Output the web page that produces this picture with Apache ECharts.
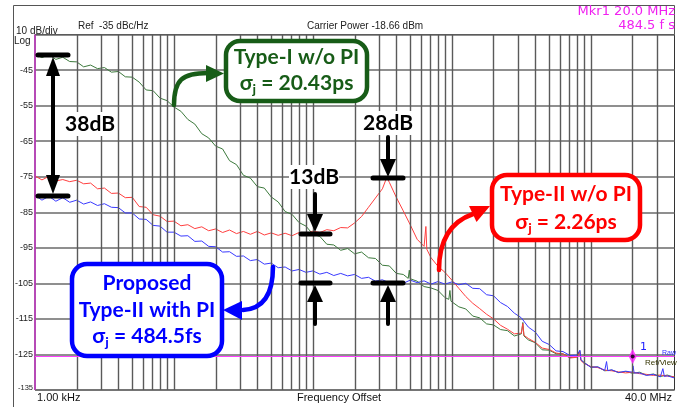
<!DOCTYPE html>
<html>
<head>
<meta charset="utf-8">
<script src="https://cdn.jsdelivr.net/npm/echarts@6/dist/echarts.min.js"></script>
<style>
html,body{margin:0;padding:0;background:#fff;}
#chart{width:682px;height:407px;}
</style>
</head>
<body>
<div id="chart"></div>
<script>
// ---- data (frequency offset in Hz, phase noise in dBc/Hz) ----
const freqs = [1000,1122,1259,1413,1585,1778,1995,2239,2512,2818,3162,3548,3981,4467,5012,5623,6310,7079,7943,8913,
  10000,11220,12590,14130,15850,17780,19950,22390,25120,28180,31620,35480,39810,44670,50120,56230,63100,70790,79430,89130,
  100000,112200,125900,141300,158500,177800,199500,223900,251200,281800,316200,354800,398100,446700,501200,562300,631000,707900,794300,891300,
  1000000,1122000,1259000,1413000,1585000,1778000,1995000,2239000,2512000,2818000,3162000,3548000,3981000,4467000,5012000,5623000,6310000,7079000,7943000,8913000,
  10000000,11220000,12590000,14130000,15850000,17780000,19950000,22390000,25120000,28180000,31620000,35480000,39810000,40000000];

const greenDb = [-40.6,-41.5,-40.7,-42.0,-41.4,-42.6,-42.7,-44.1,-43.6,-44.6,-44.3,-45.6,-45.4,-46.9,-47.0,-48.4,-50.6,-50.8,-52.9,-53.6,
  -55.4,-56.6,-58.9,-60.2,-62.9,-64.1,-66.4,-67.2,-70.5,-71.6,-74.6,-75.4,-77.8,-78.2,-80.7,-82.1,-84.8,-85.6,-87.9,-88.9,
  -91.2,-91.8,-94.0,-94.2,-95.7,-95.2,-96.7,-96.2,-97.8,-98.0,-99.9,-100.1,-102.2,-102.5,-103.7,-104.4,-105.9,-106.3,-107.0,-109.0,
  -109.8,-111.6,-112.2,-114.2,-114.7,-116.4,-116.7,-118.0,-118.3,-119.8,-119.2,-120.9,-121.7,-123.7,-123.8,-124.8,-124.8,-125.9,-125.6,-127.2,
  -128.6,-128.5,-129.6,-129.4,-130.1,-129.8,-130.3,-130.0,-130.8,-130.5,-131.2,-130.8,-131.4,-131.2];

const redDb = [-74.8,-75.9,-74.9,-76.2,-75.8,-76.4,-76.0,-77.0,-76.8,-78.4,-78.2,-79.7,-79.6,-80.9,-80.8,-83.4,-83.6,-85.7,-86.1,-87.6,
  -87.5,-88.8,-88.5,-89.6,-89.1,-90.2,-89.7,-90.7,-90.0,-91.0,-90.4,-91.2,-90.4,-91.4,-90.8,-91.5,-90.9,-91.6,-90.7,-91.1,
  -90.3,-90.7,-89.9,-90.2,-89.3,-89.4,-88.0,-86.2,-83.6,-81.0,-78.4,-76.6,-80.8,-84.6,-88.5,-92.6,-94.6,-97.8,-100.2,-101.9,
  -104.1,-106.4,-108.7,-110.6,-112.1,-113.7,-115.0,-116.8,-117.9,-119.2,-119.0,-120.5,-121.6,-123.2,-123.6,-124.6,-124.9,-126.0,-125.8,-127.5,
  -128.4,-128.7,-129.4,-129.6,-129.9,-130.2,-130.0,-130.4,-130.6,-130.9,-130.8,-131.1,-131.3,-131.3];

const blueDb = [-80.2,-81.6,-80.5,-81.9,-80.9,-82.2,-81.6,-82.7,-82.1,-83.1,-82.6,-83.6,-83.7,-85.2,-85.2,-86.9,-87.0,-88.7,-88.9,-90.6,
  -90.6,-91.7,-91.6,-93.2,-93.1,-94.6,-94.7,-96.2,-96.1,-97.4,-97.3,-98.6,-98.3,-99.6,-99.3,-100.6,-100.4,-101.5,-101.1,-101.9,
  -101.5,-102.4,-101.9,-102.8,-102.2,-102.9,-102.5,-103.6,-103.3,-104.4,-104.0,-104.9,-104.5,-105.0,-104.1,-104.8,-104.3,-105.2,-104.5,-105.2,
  -104.6,-105.4,-105.0,-106.4,-106.5,-108.2,-108.5,-110.4,-111.5,-113.4,-114.7,-117.3,-118.7,-121.3,-122.2,-124.0,-124.2,-125.3,-125.2,-127.3,
  -128.6,-128.5,-129.5,-129.3,-130.1,-129.7,-130.0,-130.2,-130.9,-130.6,-131.3,-131.0,-131.6,-131.5];

// narrow spurs [freq, dB]
const greenSpikes = [[485000,-103.6],[494000,-101.3],[503000,-103.8],[950000,-109.5],[968000,-107.0],[985000,-110.0],
  [3180000,-119.5],[3240000,-116.0],[3300000,-119.8],[8200000,-126.0],[8340000,-124.0],[8480000,-126.6]];
const redSpikes = [[340000,-75.2],[640000,-95.0],[650000,-89.0],[660000,-95.4],
  [3180000,-119.2],[3240000,-116.3],[3300000,-119.6],[8200000,-126.1],[8340000,-124.3],[8480000,-126.7]];
const blueSpikes = [[8200000,-125.6],[8340000,-123.8],[8480000,-126.4],[12700000,-129.3],[12970000,-127.0],[13250000,-129.6],
  [20100000,-128.2],[20500000,-130.2],[32200000,-131.0],[33000000,-129.0],[33800000,-131.2]];

const xGridFreqs = [2000,3000,4000,5000,6000,7000,8000,9000,10000,20000,30000,40000,50000,60000,70000,80000,90000,
  100000,200000,300000,400000,500000,600000,700000,800000,900000,1000000,2000000,3000000,4000000,5000000,6000000,7000000,8000000,9000000,
  10000000,20000000,30000000];
const xMin = 1000, xMax = 40000000;
const yMin = -135, yMax = -35, yStep = 10;
const markerFreq = 20000000, markerDb = -125.6;

function pairs(vals, spikes) {
  const d = freqs.map((f, i) => [f, vals[i]]).concat(spikes);
  d.sort((a, b) => a[0] - b[0]);
  return d;
}

const chart = echarts.init(document.getElementById('chart'), null, {renderer: 'canvas'});
const LBL = 'bold 21px Lato, "Open Sans", sans-serif';
const AR = '"Liberation Sans", Arial, sans-serif';
const DV = '"DejaVu Sans", sans-serif';

function sigmaText(x, y, rest, color) {
  return {type: 'text', z: 120, style: {
    text: '{m|σ}{s|j}{m| = ' + rest + '}', x: x, y: y, textAlign: 'center', textVerticalAlign: 'middle',
    rich: {
      m: {font: LBL, fill: color, lineHeight: 26, verticalAlign: 'middle'},
      s: {font: 'bold 14px Lato, "Open Sans", sans-serif', fill: color, lineHeight: 14, verticalAlign: 'bottom'}
    }
  }};
}
function line(x1, y1, x2, y2, w, c) {
  return {type: 'line', z: 110, shape: {x1, y1, x2, y2}, style: {stroke: c || '#000', lineWidth: w, lineCap: 'round'}};
}
function tri(pts, c) {
  return {type: 'polygon', z: 111, shape: {points: pts}, style: {fill: c || '#000'}};
}
function label(x, y, t, opts) {
  return Object.assign({type: 'text', z: 120, style: Object.assign({text: t, x: x, y: y, textVerticalAlign: 'middle'}, opts)});
}
function bgText(cx, cy, t, w) {
  return [
    {type: 'rect', z: 105, shape: {x: cx - w / 2, y: cy - 12, width: w, height: 24}, style: {fill: '#fff'}},
    {type: 'text', z: 120, style: {text: t, x: cx, y: cy, textAlign: 'center', textVerticalAlign: 'middle', font: 'bold 21px Lato, "Open Sans", sans-serif', fill: '#000'}}
  ];
}

const green = '#175c17', red = '#ff0000', blue = '#0000ff';

const graphics = [
  // frame
  {type: 'polyline', z: 100, shape: {points: [[13.5, 410], [13.5, 5.5], [674.5, 5.5], [674.5, 34]]}, style: {stroke: '#555', lineWidth: 1, fill: null}},
  // header texts
  label(16, 31, '10 dB/div', {font: '10px ' + AR, fill: '#222'}),
  label(14, 41.5, 'Log', {font: '10px ' + AR, fill: '#222'}),
  label(78, 26, 'Ref  -35 dBc/Hz', {font: '10px ' + AR, fill: '#222'}),
  label(307, 26.5, 'Carrier Power -18.66 dBm', {font: '10px ' + AR, fill: '#222'}),
  label(675, 11.5, 'Mkr1 20.0 MHz', {font: '13px ' + DV, fill: '#f020f0', textAlign: 'right'}),
  label(675, 26, '484.5 f s', {font: '13px ' + DV, fill: '#f020f0', textAlign: 'right'}),
  // footer texts
  label(37, 398, '1.00 kHz', {font: '11px ' + AR, fill: '#111'}),
  label(339, 398, 'Frequency Offset', {font: '11px ' + AR, fill: '#111', textAlign: 'center'}),
  label(672, 398, '40.0 MHz', {font: '11px ' + AR, fill: '#111', textAlign: 'right'}),
  // marker label
  label(640, 347, '1', {font: '11px ' + DV, fill: '#2020ff'}),
  label(662, 353, 'Raw', {font: '7px ' + AR, fill: '#3030ff'}),
  label(645, 363, 'Ref/View', {font: '8px ' + AR, fill: '#333300'}),

  // 38dB
  line(38, 55, 68, 55, 5), line(38, 196, 68, 196, 5), line(53, 72, 53, 180, 4),
  tri([[53, 57], [46, 76], [60, 76]]), tri([[53, 194], [46, 175], [60, 175]]),
  ...bgText(90, 124, '38dB', 50),

  // 13dB
  ...bgText(314, 177, '13dB', 50),
  line(315, 194, 315, 216, 4), tri([[315, 232], [307, 214], [323, 214]]),
  line(301, 234, 330, 234, 5), line(301, 283, 330, 283, 5),
  line(315, 300, 315, 324, 4), tri([[315, 285], [307, 302], [323, 302]]),

  // 28dB
  ...bgText(388, 123, '28dB', 50),
  line(388, 137, 388, 162, 4), tri([[388, 177], [380, 159], [396, 159]]),
  line(373, 178, 403, 178, 5), line(373, 283, 403, 283, 5),
  line(388, 300, 388, 324, 4), tri([[388, 285], [380, 302], [396, 302]]),

  // green box + arrow
  {type: 'bezierCurve', z: 110, shape: {x1: 174, y1: 105, cpx1: 174, cpy1: 80, cpx2: 182, cpy2: 73, x2: 208, y2: 73}, style: {stroke: green, lineWidth: 4.5, fill: null, lineCap: 'round'}},
  tri([[206, 65], [224, 73.5], [206, 82]], green),
  {type: 'rect', z: 115, shape: {x: 226, y: 41, width: 141, height: 60, r: 14}, style: {fill: '#fff', stroke: green, lineWidth: 4.5}},
  label(296.5, 57, 'Type-I w/o PI', {font: LBL, fill: green, textAlign: 'center'}),
  sigmaText(296.5, 83, '20.43ps', green),

  // red box + arrow
  {type: 'bezierCurve', z: 110, shape: {x1: 439, y1: 270, cpx1: 439, cpy1: 240, cpx2: 450, cpy2: 222, x2: 473, y2: 214}, style: {stroke: red, lineWidth: 4.5, fill: null, lineCap: 'round'}},
  tri([[490, 206], [476.5, 222], [469, 206]], red),
  {type: 'rect', z: 115, shape: {x: 492, y: 175, width: 148, height: 65, r: 15}, style: {fill: '#fff', stroke: red, lineWidth: 4.5}},
  label(566, 194, 'Type-II w/o PI', {font: LBL, fill: red, textAlign: 'center'}),
  sigmaText(566, 222, '2.26ps', red),

  // blue box + arrow
  {type: 'bezierCurve', z: 110, shape: {x1: 273, y1: 267, cpx1: 273, cpy1: 296, cpx2: 262, cpy2: 309, x2: 243, y2: 310}, style: {stroke: blue, lineWidth: 4.5, fill: null, lineCap: 'round'}},
  tri([[223, 310], [242, 301], [242, 320]], blue),
  {type: 'rect', z: 115, shape: {x: 72, y: 264, width: 150, height: 92, r: 15}, style: {fill: '#fff', stroke: blue, lineWidth: 4.5}},
  label(147, 283.5, 'Proposed', {font: LBL, fill: blue, textAlign: 'center'}),
  label(147, 310, 'Type-II with PI', {font: LBL, fill: blue, textAlign: 'center'}),
  sigmaText(147, 336, '484.5fs', blue)
];

const option = {
  animation: false,
  backgroundColor: '#fff',
  grid: {left: 35, top: 34.5, right: 7.5, bottom: 17, show: true, borderColor: '#333', borderWidth: 1, backgroundColor: 'transparent'},
  xAxis: {type: 'log', logBase: 10, min: xMin, max: xMax,
    axisLine: {show: false}, axisTick: {show: false}, axisLabel: {show: false}, splitLine: {show: false}, minorTick: {show: false}},
  yAxis: {type: 'value', min: yMin, max: yMax, interval: yStep,
    axisLine: {show: false}, axisTick: {show: false},
    splitLine: {show: true, lineStyle: {color: '#6a6a6a', width: 1.5}},
    axisLabel: {margin: 2, color: '#222', fontSize: 9, fontFamily: AR,
      formatter: v => v === yMax ? '' : (v === yMin ? '{s|' + v + '}' : String(v)),
      rich: {s: {fontSize: 7.5, color: '#222', fontFamily: AR, padding: [0, 0, 4, 0]}}}},
  series: [
    {type: 'line', name: 'grid', data: [], silent: true, z: 1,
      markLine: {silent: true, symbol: ['none', 'none'], label: {show: false}, animation: false,
        lineStyle: {color: '#5a5a5a', width: 1.4, type: 'solid'},
        data: xGridFreqs.map(f => ({xAxis: f})).concat([
          {xAxis: xMin, lineStyle: {color: '#c030c0', width: 1.5, type: 'solid'}}
        ])}},
    {type: 'line', name: 'Type-I w/o PI', data: pairs(greenDb, greenSpikes), showSymbol: false, z: 3,
      lineStyle: {color: '#3d7a3d', width: 1}, itemStyle: {color: '#3d7a3d'}},
    {type: 'line', name: 'Type-II w/o PI', data: pairs(redDb, redSpikes), showSymbol: false, z: 3,
      lineStyle: {color: '#ff4040', width: 1}, itemStyle: {color: '#ff4040'}},
    {type: 'line', name: 'Proposed Type-II with PI', data: pairs(blueDb, blueSpikes), showSymbol: false, z: 4,
      lineStyle: {color: '#3a3aff', width: 1}, itemStyle: {color: '#3a3aff'},
      markLine: {silent: true, symbol: ['none', 'none'], label: {show: false}, animation: false,
        lineStyle: {color: '#ff40ff', width: 1, type: 'solid'}, data: [{yAxis: markerDb}]}},
    {type: 'scatter', name: 'marker', data: [[markerFreq, markerDb]], symbol: 'diamond', symbolSize: [8, 15], z: 6,
      itemStyle: {color: '#ff20ff'}, silent: true},
    {type: 'scatter', name: 'markerDot', data: [[markerFreq, markerDb]], symbol: 'circle', symbolSize: 4, z: 7,
      itemStyle: {color: '#000'}, silent: true}
  ],
  graphic: graphics
};
chart.setOption(option);
</script>
</body>
</html>
